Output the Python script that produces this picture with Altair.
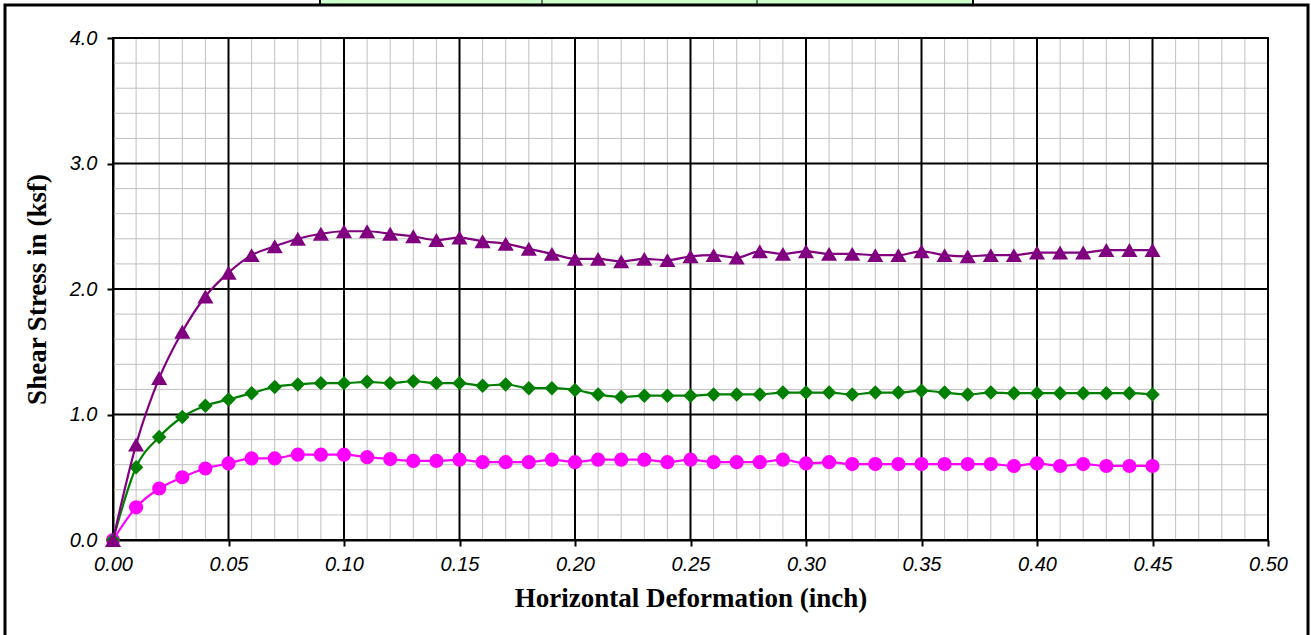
import altair as alt
import pandas as pd

# ---- data ----
deform = [0.00, 0.01, 0.02, 0.03, 0.04, 0.05, 0.06, 0.07, 0.08, 0.09,
          0.10, 0.11, 0.12, 0.13, 0.14, 0.15, 0.16, 0.17, 0.18, 0.19,
          0.20, 0.21, 0.22, 0.23, 0.24, 0.25, 0.26, 0.27, 0.28, 0.29,
          0.30, 0.31, 0.32, 0.33, 0.34, 0.35, 0.36, 0.37, 0.38, 0.39,
          0.40, 0.41, 0.42, 0.43, 0.44, 0.45]

stress_high = [0.00, 0.76, 1.29, 1.66, 1.94, 2.13, 2.27, 2.34, 2.40, 2.44,
               2.46, 2.46, 2.44, 2.42, 2.39, 2.41, 2.38, 2.36, 2.32, 2.28,
               2.24, 2.24, 2.22, 2.24, 2.23, 2.26, 2.27, 2.25, 2.30, 2.28,
               2.30, 2.28, 2.28, 2.27, 2.27, 2.30, 2.27, 2.26, 2.27, 2.27,
               2.29, 2.29, 2.29, 2.31, 2.31, 2.31]

stress_mid = [0.00, 0.58, 0.82, 0.98, 1.07, 1.12, 1.17, 1.22, 1.24, 1.25,
              1.25, 1.26, 1.25, 1.265, 1.25, 1.25, 1.23, 1.24, 1.21, 1.21,
              1.195, 1.16, 1.14, 1.15, 1.15, 1.15, 1.16, 1.16, 1.16, 1.175,
              1.175, 1.175, 1.16, 1.175, 1.175, 1.19, 1.175, 1.16, 1.175, 1.17,
              1.17, 1.17, 1.17, 1.17, 1.17, 1.16]

stress_low = [0.00, 0.26, 0.41, 0.50, 0.57, 0.61, 0.65, 0.65, 0.68, 0.68,
              0.68, 0.66, 0.645, 0.63, 0.63, 0.64, 0.62, 0.62, 0.62, 0.64,
              0.62, 0.64, 0.64, 0.64, 0.62, 0.64, 0.62, 0.62, 0.62, 0.64,
              0.61, 0.62, 0.605, 0.605, 0.605, 0.605, 0.605, 0.605, 0.605, 0.59,
              0.61, 0.59, 0.605, 0.59, 0.59, 0.59]

x_major = [0.00, 0.05, 0.10, 0.15, 0.20, 0.25, 0.30, 0.35, 0.40, 0.45, 0.50]
y_major = [0.0, 1.0, 2.0, 3.0, 4.0]
x_minor = [round(i * 0.01, 2) for i in range(51) if i % 5 != 0]
y_minor = [round(i * 0.2, 1) for i in range(21) if i % 5 != 0]

W, H = 1155, 502
PAD_L, PAD_T = 113, 38

xscale = alt.Scale(domain=[0, 0.5], nice=False, zero=False)
yscale = alt.Scale(domain=[0, 4], nice=False, zero=False)

label_font = "Liberation Sans"
title_font = "Liberation Serif"

xaxis = alt.Axis(values=x_major, format=".2f", grid=False, labelFlush=False,
                 title="Horizontal Deformation (inch)",
                 labelFont=label_font, labelFontStyle="italic", labelFontSize=20,
                 labelColor="black", labelPadding=8,
                 titleFont=title_font, titleFontWeight="bold", titleFontSize=27,
                 titleColor="black", titlePadding=11,
                 domainColor="black", domainWidth=2,
                 tickColor="black", tickWidth=2, tickSize=6)
yaxis = alt.Axis(values=y_major, format=".1f", grid=False, labelFlush=False,
                 title="Shear Stress in (ksf)",
                 labelFont=label_font, labelFontStyle="italic", labelFontSize=20,
                 labelColor="black", labelPadding=10,
                 titleFont=title_font, titleFontWeight="bold", titleFontSize=27,
                 titleColor="black", titlePadding=18,
                 domainColor="black", domainWidth=2,
                 tickColor="black", tickWidth=2, tickSize=6)

# grid lines
gx_minor = alt.Chart(pd.DataFrame({"gx": x_minor})).mark_rule(
    color="#c0c0c0", strokeWidth=1).encode(x=alt.X("gx:Q", scale=xscale, axis=xaxis))
gy_minor = alt.Chart(pd.DataFrame({"gy": y_minor})).mark_rule(
    color="#c0c0c0", strokeWidth=1).encode(y=alt.Y("gy:Q", scale=yscale, axis=yaxis))
gx_major = alt.Chart(pd.DataFrame({"gx": x_major})).mark_rule(
    color="black", strokeWidth=2).encode(x=alt.X("gx:Q", scale=xscale, axis=xaxis))
gy_major = alt.Chart(pd.DataFrame({"gy": y_major})).mark_rule(
    color="black", strokeWidth=2).encode(y=alt.Y("gy:Q", scale=yscale, axis=yaxis))


def series(values, color, shape, size):
    df = pd.DataFrame({"x": deform, "y": values})
    base = alt.Chart(df).encode(
        x=alt.X("x:Q", scale=xscale, axis=xaxis),
        y=alt.Y("y:Q", scale=yscale, axis=yaxis),
    )
    line = base.mark_line(color=color, strokeWidth=2.2, interpolate="monotone")
    pts = base.mark_point(filled=True, color=color, shape=shape, size=size, opacity=1)
    return line + pts


low = series(stress_low, "#FF00FF", "circle", 200)
mid = series(stress_mid, "#008000", "diamond", 210)
high = series(stress_high, "#800080", "triangle-up", 260)

# decorations: outer frame of the sheet and the fragment of the table above
frame = alt.Chart(pd.DataFrame({"k": [0]})).mark_rect(
    fill=None, stroke="black", strokeWidth=3).encode(
    x=alt.value(5 - PAD_L), x2=alt.value(1308 - PAD_L),
    y=alt.value(5 - PAD_T), y2=alt.value(660 - PAD_T))
table = alt.Chart(pd.DataFrame({"k": [0]})).mark_rect(
    fill="#CCFFCC", stroke="black", strokeWidth=2).encode(
    x=alt.value(320 - PAD_L), x2=alt.value(973 - PAD_L),
    y=alt.value(-10 - PAD_T), y2=alt.value(5 - PAD_T))
div1 = alt.Chart(pd.DataFrame({"k": [0]})).mark_rule(color="black", strokeWidth=1).encode(
    x=alt.value(542 - PAD_L), y=alt.value(-10 - PAD_T), y2=alt.value(5 - PAD_T))
div2 = alt.Chart(pd.DataFrame({"k": [0]})).mark_rule(color="black", strokeWidth=1).encode(
    x=alt.value(757 - PAD_L), y=alt.value(-10 - PAD_T), y2=alt.value(5 - PAD_T))

chart = alt.layer(
    gx_minor, gy_minor, gx_major, gy_major, low, mid, high,
    table, div1, div2, frame
).properties(
    width=W, height=H,
    autosize=alt.AutoSizeParams(type="none"),
    padding={"left": PAD_L, "top": PAD_T, "right": 1311 - PAD_L - W, "bottom": 635 - PAD_T - H},
    background="white",
).configure_view(stroke="black", strokeWidth=2)

chart.save("out.html", embed_options={"renderer": "svg", "actions": False})
